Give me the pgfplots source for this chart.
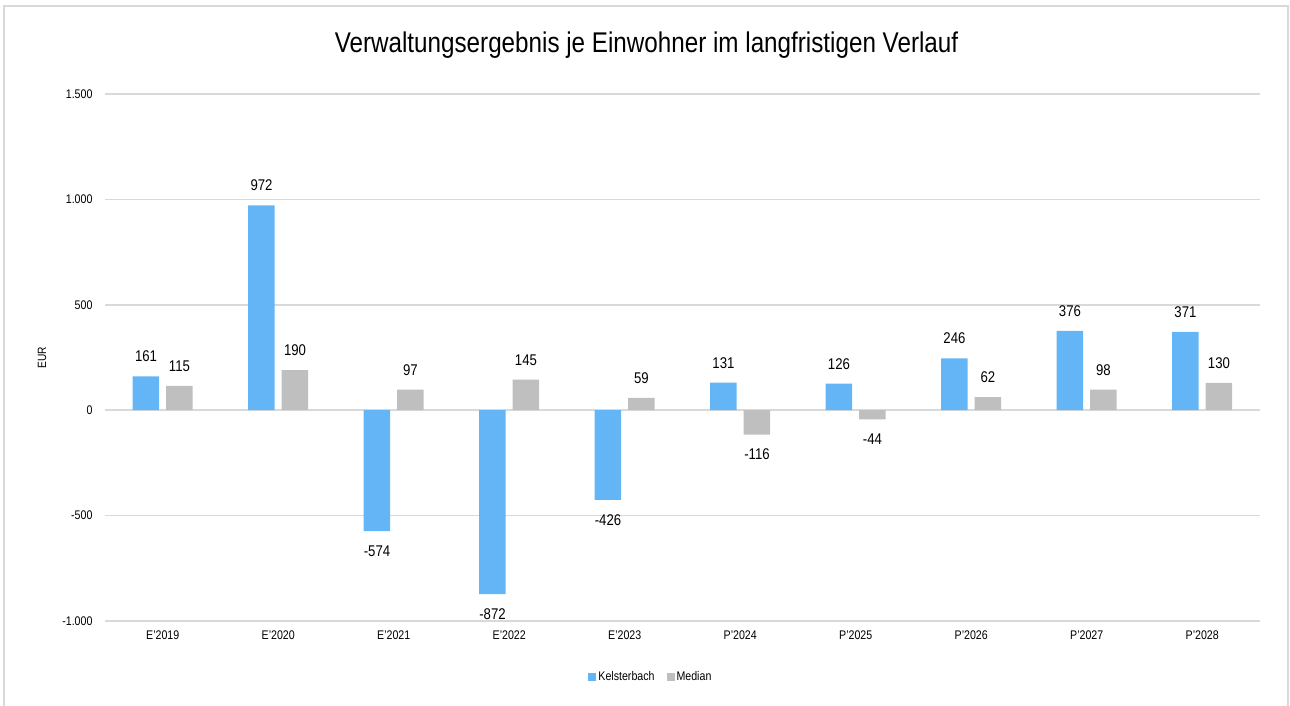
\documentclass[border=0pt]{standalone}
\usepackage{fontspec}
\setmainfont{Liberation Sans}[FakeStretch=0.85]
\usepackage{pgfplots}
\pgfplotsset{compat=1.18}
\definecolor{kblue}{RGB}{99,181,246}
\definecolor{mgray}{RGB}{191,191,191}
\definecolor{gridc}{RGB}{217,217,217}
\begin{document}
\begin{tikzpicture}[x=1pt,y=1pt]
\useasboundingbox (0,0) rectangle (1290,706);
\draw[gridc, line width=1.5pt] (4,-10) rectangle (1288,700);
\node[font=\fontsize{28.5}{32}\selectfont] at (646.5,661) {Verwaltungsergebnis je Einwohner im langfristigen Verlauf};
\node[rotate=90, font=\fontsize{12}{14}\selectfont] at (42,348) {EUR};
\begin{axis}[
  at={(105pt,85pt)}, anchor=south west,
  scale only axis, width=1155pt, height=527pt,
  xmin=-0.5, xmax=9.5, ymin=-1000, ymax=1500,
  enlargelimits=false, clip=false,
  axis line style={draw=none},
  major tick length=0pt,
  ymajorgrids, grid style={gridc, line width=1.5pt},
  ytick={-1000,-500,0,500,1000,1500},
  yticklabels={-1.000,-500,0,500,1.000,1.500},
  yticklabel style={font=\fontsize{12.5}{14}\selectfont, xshift=-9pt},
  xtick={0,...,9},
  xticklabels={E'2019,E'2020,E'2021,E'2022,E'2023,P'2024,P'2025,P'2026,P'2027,P'2028},
  xticklabel style={font=\fontsize{12.5}{14}\selectfont, yshift=-6pt},
  ybar=7pt, bar width=26.5pt,
  nodes near coords, nodes near coords align={vertical},
  every node near coord/.append style={font=\fontsize{15.5}{18}\selectfont, inner ysep=14pt, text=black,
    /pgf/number format/assume math mode=true},
  legend columns=-1,
  legend style={draw=none, at={(0.4727,-0.1063)}, anchor=center, font=\fontsize{12.5}{14}\selectfont,
    /tikz/every even column/.append style={column sep=10pt}, inner xsep=0pt},
  legend image code/.code={\fill[#1] (0pt,-4pt) rectangle (8pt,4pt);},
]
\addplot[fill=kblue, draw=none] coordinates {(0,161) (1,972) (2,-574) (3,-872) (4,-426) (5,131) (6,126) (7,246) (8,376) (9,371)};
\addplot[fill=mgray, draw=none] coordinates {(0,115) (1,190) (2,97) (3,145) (4,59) (5,-116) (6,-44) (7,62) (8,98) (9,130)};
\legend{Kelsterbach, Median}
\end{axis}
\end{tikzpicture}
\end{document}
